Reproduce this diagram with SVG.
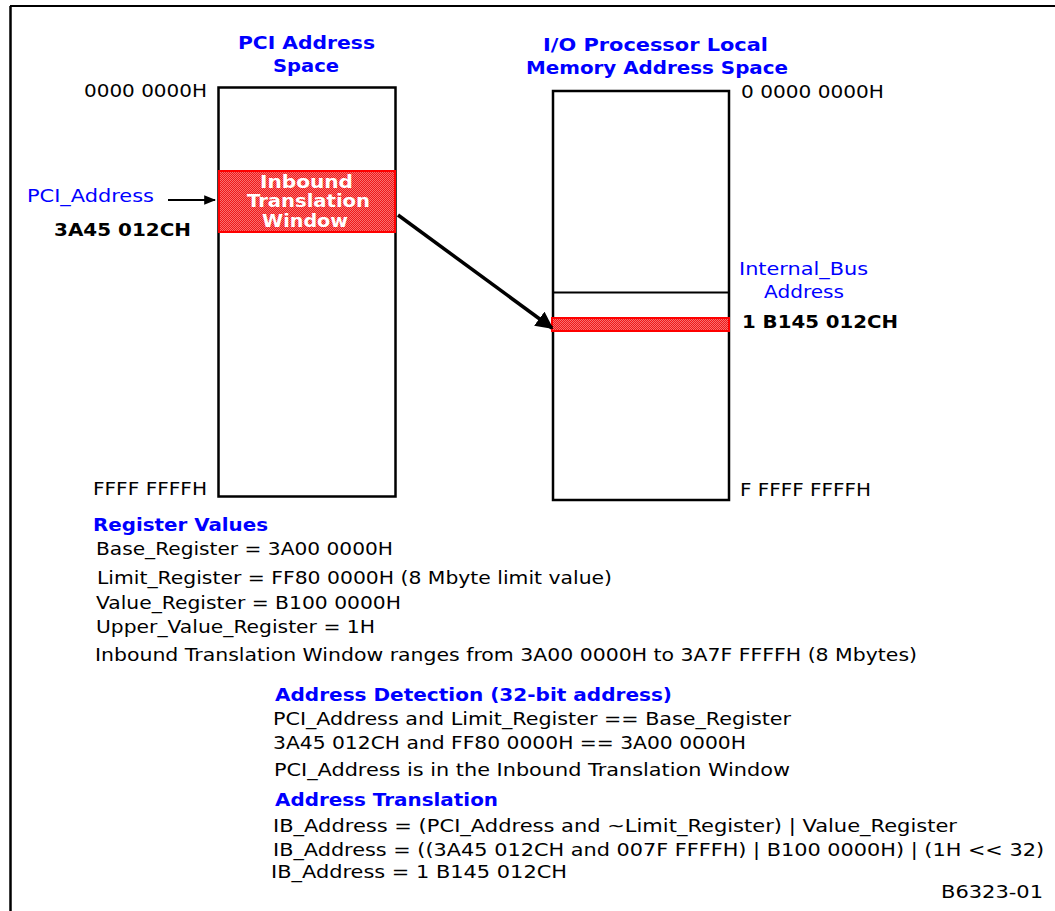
<svg xmlns="http://www.w3.org/2000/svg" width="1055" height="911" viewBox="0 0 1055 911">
<style>
text{font-family:"DejaVu Sans","Liberation Sans",sans-serif;}
.n{font-size:18px;fill:#000;}
.b{font-size:18px;font-weight:bold;fill:#000;}
.t{font-size:18.5px;font-weight:bold;fill:#0000ff;}
.bl{font-size:18px;fill:#0000ff;}
.w{font-size:17px;font-weight:bold;fill:#fff;}
.box{fill:#fff;stroke:#000;stroke-width:2.5;}
.win{fill:url(#dith);stroke:#ff0000;stroke-width:2;}
.frame{stroke:#000;fill:none;}
</style>
<defs>
<pattern id="dith" width="2" height="2" patternUnits="userSpaceOnUse">
<rect width="2" height="2" fill="#f01818"/>
<rect width="1" height="1" fill="#f87070"/>
<rect x="1" y="1" width="1" height="1" fill="#f87070"/>
</pattern>
<marker id="ah" viewBox="0 0 10 10" refX="9" refY="5" markerWidth="5" markerHeight="5" orient="auto" markerUnits="strokeWidth">
<path d="M0,0 L10,5 L0,10 Z" fill="#000"/>
</marker>
<marker id="ahs" viewBox="0 0 10 10" refX="9" refY="5" markerWidth="6" markerHeight="6" orient="auto" markerUnits="strokeWidth">
<path d="M0,1 L10,5 L0,9 Z" fill="#000"/>
</marker>
</defs>

<g id="frame">
<line class="frame" x1="10.5" y1="6" x2="10.5" y2="911" stroke-width="2.5"/>
<line class="frame" x1="10" y1="6" x2="1055" y2="6" stroke-width="2"/>
</g>

<g id="pci-space">
<text class="t" x="238" y="49" textLength="137" lengthAdjust="spacingAndGlyphs">PCI Address</text>
<text class="t" x="273" y="72" textLength="66" lengthAdjust="spacingAndGlyphs">Space</text>
<rect class="box" x="218.5" y="87.5" width="177" height="409"/>
<text class="n" x="84" y="97" textLength="123" lengthAdjust="spacingAndGlyphs">0000 0000H</text>
<text class="n" x="93" y="495" textLength="114" lengthAdjust="spacingAndGlyphs">FFFF FFFFH</text>
</g>

<g id="inbound-window">
<rect class="win" x="219" y="171" width="176" height="61"/>
<text class="w" x="260" y="188" textLength="93" lengthAdjust="spacingAndGlyphs">Inbound</text>
<text class="w" x="247" y="207" textLength="123" lengthAdjust="spacingAndGlyphs">Translation</text>
<text class="w" x="262" y="227" textLength="86" lengthAdjust="spacingAndGlyphs">Window</text>
</g>

<g id="pci-address-label">
<text class="bl" x="27" y="202" textLength="127" lengthAdjust="spacingAndGlyphs">PCI_Address</text>
<text class="b" x="54" y="236" textLength="137" lengthAdjust="spacingAndGlyphs">3A45 012CH</text>
</g>

<g id="local-space">
<text class="t" x="543" y="51" textLength="225" lengthAdjust="spacingAndGlyphs">I/O Processor Local</text>
<text class="t" x="526" y="74" textLength="262" lengthAdjust="spacingAndGlyphs">Memory Address Space</text>
<rect class="box" x="553" y="91" width="176" height="409"/>
<line x1="553" y1="292.5" x2="729" y2="292.5" stroke="#000" stroke-width="2"/>
<text class="n" x="741" y="98" textLength="143" lengthAdjust="spacingAndGlyphs">0 0000 0000H</text>
<text class="n" x="740" y="496" textLength="131" lengthAdjust="spacingAndGlyphs">F FFFF FFFFH</text>
</g>

<g id="internal-bus">
<rect class="win" x="552" y="318" width="177" height="13"/>
<text class="bl" x="739" y="275" textLength="129" lengthAdjust="spacingAndGlyphs">Internal_Bus</text>
<text class="bl" x="764" y="298" textLength="80" lengthAdjust="spacingAndGlyphs">Address</text>
<text class="b" x="742" y="328" textLength="156" lengthAdjust="spacingAndGlyphs">1 B145 012CH</text>
</g>

<g id="connectors">
<line x1="168" y1="200" x2="215" y2="200" stroke="#000" stroke-width="2" marker-end="url(#ahs)"/>
<line x1="398" y1="215" x2="552" y2="328" stroke="#000" stroke-width="3.5" marker-end="url(#ah)"/>
</g>

<g id="register-values">
<text class="t" x="93" y="531" textLength="175" lengthAdjust="spacingAndGlyphs">Register Values</text>
<text class="n" x="96" y="555" textLength="297" lengthAdjust="spacingAndGlyphs">Base_Register = 3A00 0000H</text>
<text class="n" x="97" y="584" textLength="515" lengthAdjust="spacingAndGlyphs">Limit_Register = FF80 0000H (8 Mbyte limit value)</text>
<text class="n" x="96" y="609" textLength="305" lengthAdjust="spacingAndGlyphs">Value_Register = B100 0000H</text>
<text class="n" x="96" y="633" textLength="279" lengthAdjust="spacingAndGlyphs">Upper_Value_Register = 1H</text>
<text class="n" x="95" y="661" textLength="822" lengthAdjust="spacingAndGlyphs">Inbound Translation Window ranges from 3A00 0000H to 3A7F FFFFH (8 Mbytes)</text>
</g>

<g id="address-detection">
<text class="t" x="275" y="701" textLength="397" lengthAdjust="spacingAndGlyphs">Address Detection (32-bit address)</text>
<text class="n" x="273" y="725" textLength="518" lengthAdjust="spacingAndGlyphs">PCI_Address and Limit_Register == Base_Register</text>
<text class="n" x="273" y="749" textLength="473" lengthAdjust="spacingAndGlyphs">3A45 012CH and FF80 0000H == 3A00 0000H</text>
<text class="n" x="274" y="776" textLength="516" lengthAdjust="spacingAndGlyphs">PCI_Address is in the Inbound Translation Window</text>
</g>

<g id="address-translation">
<text class="t" x="275" y="806" textLength="223" lengthAdjust="spacingAndGlyphs">Address Translation</text>
<text class="n" x="273" y="832" textLength="684" lengthAdjust="spacingAndGlyphs">IB_Address = (PCI_Address and ~Limit_Register) | Value_Register</text>
<text class="n" x="273" y="856" textLength="771" lengthAdjust="spacingAndGlyphs">IB_Address = ((3A45 012CH and 007F FFFFH) | B100 0000H) | (1H &lt;&lt; 32)</text>
<text class="n" x="271" y="878" textLength="296" lengthAdjust="spacingAndGlyphs">IB_Address = 1 B145 012CH</text>
<text class="n" x="941" y="898" textLength="102" lengthAdjust="spacingAndGlyphs">B6323-01</text>
</g>
</svg>
